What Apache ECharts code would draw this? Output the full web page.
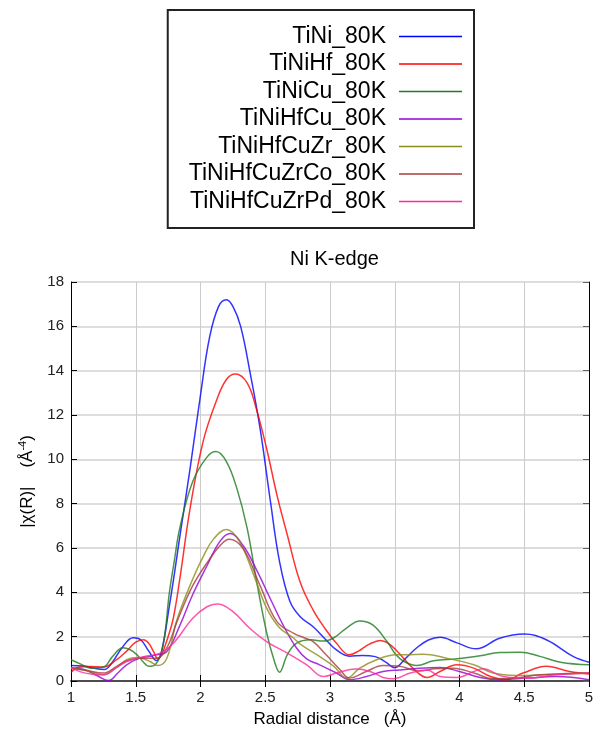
<!DOCTYPE html>
<html>
<head>
<meta charset="utf-8">
<script src="https://cdn.jsdelivr.net/npm/echarts@6/dist/echarts.min.js"></script>
<style>
  html, body { margin: 0; padding: 0; background: #fff; }
  #chart { width: 607px; height: 733px; }
</style>
</head>
<body>
<div id="chart"></div>
<script>
// Ni K-edge |χ(R)| curves, [R (Å), value]
const tiNi = [[1.00,0.70],[1.10,0.68],[1.20,0.55],[1.26,0.52],[1.32,0.85],[1.40,1.55],[1.48,1.95],[1.54,1.85],[1.60,1.35],[1.66,0.92],[1.70,1.35],[1.76,3.4],[1.80,4.9],[1.84,6.5],[1.92,9.6],[2.00,12.9],[2.07,15.5],[2.14,16.9],[2.20,17.2],[2.25,16.9],[2.31,16.0],[2.38,14.0],[2.46,11.4],[2.54,8.1],[2.61,5.4],[2.69,3.6],[2.77,2.9],[2.87,2.45],[2.97,1.85],[3.05,1.4],[3.15,1.12],[3.25,1.15],[3.35,1.1],[3.43,0.85],[3.50,0.6],[3.58,1.0],[3.67,1.5],[3.76,1.85],[3.85,1.97],[3.98,1.72],[4.13,1.45],[4.31,1.93],[4.50,2.12],[4.67,1.86],[4.88,1.1],[5.00,0.85]];
const tiNiHf = [[1.00,0.38],[1.06,0.62],[1.15,0.65],[1.25,0.63],[1.35,0.95],[1.43,1.35],[1.50,1.75],[1.56,1.86],[1.60,1.7],[1.64,1.3],[1.67,1.0],[1.70,1.2],[1.75,2.0],[1.79,2.83],[1.84,4.6],[1.92,7.8],[2.02,10.8],[2.12,12.6],[2.20,13.6],[2.27,13.85],[2.36,13.45],[2.43,12.3],[2.51,10.5],[2.59,8.4],[2.67,6.6],[2.77,4.45],[2.87,3.2],[2.97,2.3],[3.05,1.7],[3.15,1.18],[3.22,1.35],[3.30,1.65],[3.39,1.83],[3.45,1.7],[3.51,1.4],[3.64,0.58],[3.75,0.16],[3.85,0.43],[3.98,0.73],[4.11,0.58],[4.24,0.2],[4.36,0.06],[4.49,0.36],[4.67,0.66],[4.85,0.43],[5.00,0.31]];
const tiNiCu = [[1.00,0.96],[1.08,0.75],[1.15,0.58],[1.25,0.63],[1.32,1.1],[1.40,1.5],[1.46,1.4],[1.51,1.18],[1.56,0.85],[1.60,0.66],[1.65,0.73],[1.71,1.6],[1.76,4.0],[1.80,5.5],[1.84,6.9],[1.94,9.0],[2.05,10.1],[2.12,10.35],[2.20,9.9],[2.28,8.7],[2.36,6.9],[2.43,4.6],[2.51,2.2],[2.57,0.9],[2.61,0.4],[2.67,1.18],[2.74,1.7],[2.85,1.86],[2.95,1.8],[3.03,1.95],[3.13,2.4],[3.23,2.71],[3.33,2.53],[3.44,1.78],[3.51,1.18],[3.57,0.88],[3.67,0.7],[3.80,0.91],[3.98,1.0],[4.16,1.14],[4.31,1.29],[4.47,1.3],[4.62,1.11],[4.78,0.85],[5.00,0.73]];
const tiNiHfCu = [[1.00,0.6],[1.10,0.52],[1.20,0.25],[1.29,0.02],[1.36,0.35],[1.43,0.73],[1.53,1.03],[1.60,1.1],[1.66,1.18],[1.74,1.33],[1.84,2.5],[1.94,3.9],[2.05,5.2],[2.15,6.3],[2.23,6.65],[2.33,6.1],[2.43,5.05],[2.54,3.7],[2.64,2.5],[2.74,1.5],[2.82,1.0],[2.92,0.73],[3.05,0.36],[3.15,0.06],[3.28,0.2],[3.41,0.43],[3.54,0.5],[3.69,0.58],[3.85,0.61],[4.00,0.43],[4.16,0.16],[4.31,0.06],[4.52,0.13],[4.75,0.2],[5.00,0.06]];
const tiNiHfCuZr = [[1.00,0.6],[1.10,0.5],[1.25,0.28],[1.35,0.6],[1.43,0.96],[1.51,1.06],[1.56,1.0],[1.61,0.88],[1.67,0.7],[1.74,1.03],[1.82,2.8],[1.94,4.6],[2.02,5.6],[2.10,6.4],[2.20,6.83],[2.30,6.3],[2.41,4.8],[2.51,3.3],[2.61,2.4],[2.72,1.93],[2.77,1.66],[2.90,1.18],[3.03,0.66],[3.13,0.13],[3.23,0.58],[3.36,0.96],[3.51,1.18],[3.59,1.18],[3.72,1.21],[3.90,1.03],[4.11,0.73],[4.26,0.36],[4.44,0.25],[4.67,0.28],[5.00,0.36]];
const tiNiHfCuZrCo = [[1.00,0.55],[1.10,0.5],[1.25,0.36],[1.35,0.65],[1.43,0.9],[1.53,1.03],[1.66,1.03],[1.74,1.5],[1.82,2.7],[1.94,4.3],[2.07,5.5],[2.15,6.1],[2.22,6.4],[2.33,5.97],[2.46,4.3],[2.59,2.68],[2.72,2.15],[2.80,1.95],[2.87,1.78],[2.97,1.18],[3.08,0.5],[3.15,0.13],[3.28,0.43],[3.41,0.7],[3.54,0.66],[3.69,0.45],[3.80,0.55],[3.95,0.58],[4.11,0.36],[4.26,0.1],[4.43,0.13],[4.62,0.28],[5.00,0.36]];
const tiNiHfCuZrPd = [[1.00,0.6],[1.08,0.4],[1.15,0.32],[1.25,0.28],[1.35,0.6],[1.43,0.88],[1.56,1.1],[1.69,1.26],[1.79,1.7],[1.94,2.83],[2.05,3.35],[2.13,3.47],[2.25,3.13],[2.38,2.38],[2.51,1.78],[2.67,1.26],[2.82,0.73],[2.95,0.2],[3.05,0.36],[3.20,0.54],[3.31,0.43],[3.41,0.16],[3.49,0.1],[3.62,0.36],[3.75,0.5],[3.85,0.2],[3.98,0.16],[4.11,0.43],[4.18,0.55],[4.34,0.2],[4.52,0.13],[4.75,0.28],[5.00,0.36]];

const seriesNames = ['TiNi_80K', 'TiNiHf_80K', 'TiNiCu_80K', 'TiNiHfCu_80K', 'TiNiHfCuZr_80K', 'TiNiHfCuZrCo_80K', 'TiNiHfCuZrPd_80K'];
const seriesData = [tiNi, tiNiHf, tiNiCu, tiNiHfCu, tiNiHfCuZr, tiNiHfCuZrCo, tiNiHfCuZrPd];
const seriesColors = ['#0000ff', '#ff0000', '#1e7b1e', '#9400d3', '#8c8c1a', '#a83c3c', '#ff2a9a'];

const FONT = '"Liberation Sans", Arial, sans-serif';

const chart = echarts.init(document.getElementById('chart'));

const axisCommon = {
    type: 'value',
    axisLine: { show: true, lineStyle: { color: '#000', width: 1 } },
    axisTick: { show: true, inside: true, length: 6, lineStyle: { color: '#000' } },
    axisLabel: { show: false },
    splitLine: { show: false }
};

chart.setOption({
    backgroundColor: '#fff',
    animation: false,
    textStyle: { fontFamily: FONT },
    title: {
        text: 'Ni K-edge',
        left: 285,
        top: 244,
        textStyle: { fontFamily: FONT, fontSize: 20, fontWeight: 'normal', color: '#000' }
    },
    legend: {
        orient: 'vertical',
        align: 'right',
        right: 133,
        top: 10,
        padding: [15, 12, 15, 21],
        itemGap: 4.5,
        itemWidth: 63,
        itemHeight: 1.5,
        icon: 'rect',
        borderColor: '#222',
        borderWidth: 2,
        borderRadius: 0,
        data: seriesNames,
        textStyle: { fontFamily: FONT, fontSize: 23, color: '#000', padding: [0, 8, 0, 0] }
    },
    grid: { left: 71, right: 18, top: 282, bottom: 50, containLabel: false },
    xAxis: [
        Object.assign({}, axisCommon, {
            position: 'bottom',
            min: 1, max: 5, interval: 0.5,
            name: 'Radial distance   (Å)',
            nameLocation: 'middle',
            nameGap: 30,
            nameTextStyle: { fontFamily: FONT, fontSize: 17, color: '#000' },
            axisLine: { show: true, lineStyle: { color: '#444', width: 1.5 } },
            axisLabel: { show: true, margin: 9, fontSize: 15, color: '#222', fontFamily: FONT },
            splitLine: { show: true, lineStyle: { color: '#cccccc', width: 1 } }
        }),
        Object.assign({}, axisCommon, {
            position: 'top',
            min: 1, max: 5, interval: 0.5,
            axisLine: { show: true, lineStyle: { color: '#444', width: 1.5 } }
        })
    ],
    yAxis: [
        Object.assign({}, axisCommon, {
            position: 'left',
            min: 0, max: 18, interval: 2,
            name: '|χ(R)|    (Å{sup|-4})',
            nameLocation: 'middle',
            nameGap: 33,
            nameTextStyle: {
                fontFamily: FONT, fontSize: 17, color: '#000',
                rich: { sup: { fontFamily: FONT, fontSize: 11, color: '#000', padding: [0, 0, 10, 0] } }
            },
            axisLabel: { show: true, margin: 7, fontSize: 15, color: '#222', fontFamily: FONT },
            splitLine: { show: true, lineStyle: { color: '#dddddd', width: 2 } }
        }),
        Object.assign({}, axisCommon, {
            position: 'right',
            min: 0, max: 18, interval: 2,
            axisTick: { show: true, inside: true, length: 6, lineStyle: { color: '#666' } }
        })
    ],
    series: seriesNames.map((name, i) => ({
        name: name,
        type: 'line',
        data: seriesData[i],
        smooth: 0.4,
        symbol: 'none',
        xAxisIndex: 0,
        yAxisIndex: 0,
        color: seriesColors[i],
        lineStyle: { color: seriesColors[i], width: 1.5, opacity: 0.8 }
    }))
});
</script>
</body>
</html>
